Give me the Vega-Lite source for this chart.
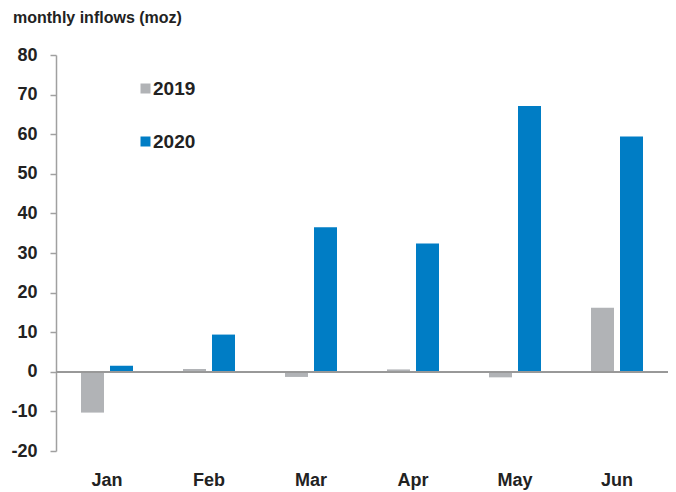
{
  "$schema": "https://vega.github.io/schema/vega-lite/v6.json",
  "width": 612,
  "height": 396,
  "autosize": "none",
  "padding": {"left": 56, "top": 55, "right": 8, "bottom": 41},
  "background": "white",
  "config": {
    "view": {"stroke": null},
    "font": "Liberation Sans"
  },
  "title": {
    "text": "monthly inflows (moz)",
    "anchor": "start",
    "orient": "none",
    "frame": "group",
    "dx": -43,
    "dy": -37,
    "baseline": "middle",
    "font": "Liberation Sans",
    "fontSize": 16,
    "fontWeight": "bold",
    "color": "#222222"
  },
  "data": {
    "values": [
      {"month": "Jan", "year": "2019", "value": -10.3},
      {"month": "Jan", "year": "2020", "value": 1.5},
      {"month": "Feb", "year": "2019", "value": 0.7},
      {"month": "Feb", "year": "2020", "value": 9.4},
      {"month": "Mar", "year": "2019", "value": -1.3},
      {"month": "Mar", "year": "2020", "value": 36.5},
      {"month": "Apr", "year": "2019", "value": 0.6},
      {"month": "Apr", "year": "2020", "value": 32.4},
      {"month": "May", "year": "2019", "value": -1.4},
      {"month": "May", "year": "2020", "value": 67.1},
      {"month": "Jun", "year": "2019", "value": 16.2},
      {"month": "Jun", "year": "2020", "value": 59.4}
    ]
  },
  "layer": [
    {
      "mark": {"type": "bar"},
      "encoding": {
        "x": {
          "field": "month",
          "type": "nominal",
          "sort": ["Jan", "Feb", "Mar", "Apr", "May", "Jun"],
          "scale": {"paddingInner": 0, "paddingOuter": 0},
          "axis": {
            "title": null,
            "orient": "bottom",
            "domain": false,
            "ticks": false,
            "labelAngle": 0,
            "labelPadding": 20,
            "labelFont": "Liberation Sans",
            "labelFontSize": 18,
            "labelFontWeight": "bold",
            "labelColor": "#222222"
          }
        },
        "xOffset": {
          "field": "year",
          "type": "nominal",
          "scale": {"paddingInner": 0.207, "paddingOuter": 0.862}
        },
        "y": {
          "field": "value",
          "type": "quantitative",
          "stack": null,
          "scale": {"domain": [-20, 80], "nice": false},
          "axis": {
            "title": null,
            "tickCount": 10,
            "labelOverlap": false,
            "labelFlush": false,
            "labelBound": false,
            "labelExpr": "'' + datum.value",
            "grid": false,
            "domain": true,
            "domainColor": "#A0A0A0",
            "domainWidth": 1.5,
            "ticks": true,
            "tickColor": "#A0A0A0",
            "tickWidth": 1.5,
            "tickSize": 6,
            "labelPadding": 13,
            "labelFont": "Liberation Sans",
            "labelFontSize": 18,
            "labelFontWeight": "bold",
            "labelColor": "#222222"
          }
        },
        "color": {
          "field": "year",
          "type": "nominal",
          "scale": {"domain": ["2019", "2020"], "range": ["#B1B3B6", "#007DC5"]},
          "legend": {
            "title": null,
            "orient": "none",
            "legendX": 80,
            "legendY": 24,
            "symbolType": "square",
            "symbolSize": 100,
            "symbolStrokeWidth": 0,
            "rowPadding": 33,
            "labelFont": "Liberation Sans",
            "labelFontSize": 19,
            "labelFontWeight": "bold",
            "labelColor": "#222222",
            "labelOffset": -2
          }
        }
      }
    },
    {
      "mark": {"type": "rule", "color": "#999999", "strokeWidth": 1.7},
      "encoding": {
        "y": {"datum": 0, "type": "quantitative"}
      }
    }
  ]
}
